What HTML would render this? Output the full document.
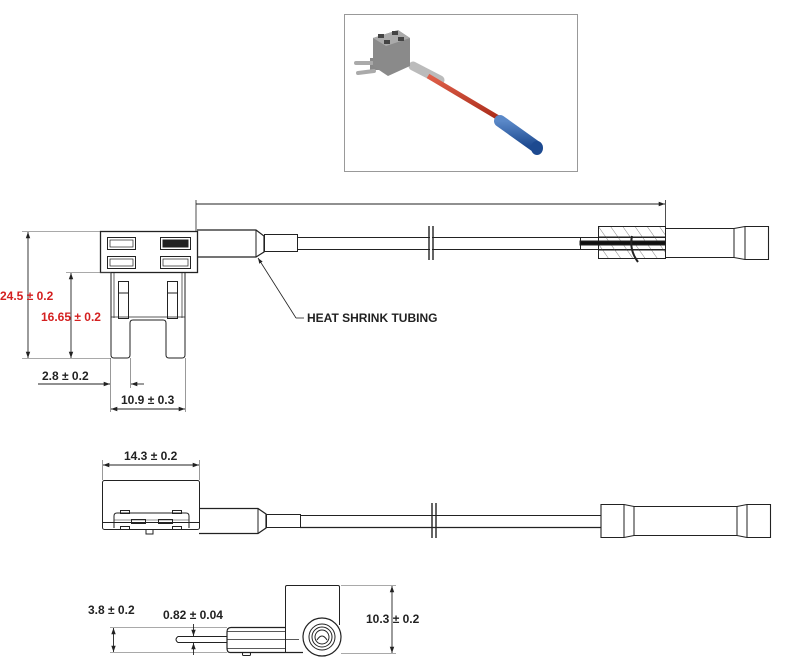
<!DOCTYPE html>
<html><head><meta charset="utf-8"><style>
html,body{margin:0;padding:0;background:#fff;width:812px;height:666px;overflow:hidden}
svg{display:block}
text{font-family:"Liberation Sans",Arial,sans-serif;font-weight:bold;font-size:12px}
</style></head><body>
<svg width="812" height="666" viewBox="0 0 812 666" xmlns="http://www.w3.org/2000/svg">
<defs>
<marker id="a" viewBox="0 0 10 10" refX="10" refY="5" markerWidth="7" markerHeight="7" orient="auto-start-reverse"><path d="M0,1.5 L10,5 L0,8.5z" fill="#222"/></marker>
<pattern id="h" width="10" height="10" patternUnits="userSpaceOnUse" patternTransform="rotate(-35)"><line x1="0" y1="0" x2="0" y2="10" stroke="#666" stroke-width="0.8"/></pattern>
<linearGradient id="red" x1="0" y1="0" x2="0" y2="1"><stop offset="0" stop-color="#e0604a"/><stop offset="1" stop-color="#a82a18"/></linearGradient>
<linearGradient id="blue" x1="0" y1="0" x2="0" y2="1"><stop offset="0" stop-color="#5a88c8"/><stop offset="1" stop-color="#1d4a90"/></linearGradient>
</defs>

<rect x="344.5" y="14.5" width="233" height="157" fill="#fff" stroke="#999"/>
<g>
<line x1="413" y1="66" x2="440" y2="80" stroke="#bbb" stroke-width="9" stroke-linecap="round"/>
<line x1="428" y1="76" x2="502" y2="120" stroke="url(#red)" stroke-width="5"/>
<line x1="500" y1="121" x2="535" y2="146" stroke="url(#blue)" stroke-width="12" stroke-linecap="round"/>
<ellipse cx="537" cy="148" rx="6" ry="7" fill="#1d4a90"/>
<rect x="370" y="58" width="28" height="12" fill="#888"/>
<line x1="356" y1="63" x2="372" y2="63" stroke="#aaa" stroke-width="4" stroke-linecap="round"/>
<line x1="358" y1="73" x2="374" y2="71" stroke="#aaa" stroke-width="4" stroke-linecap="round"/>
<path d="M373,38 L398,30 L410,38 L410,66 L388,76 L373,66z" fill="#8a8a8a"/>
<path d="M373,38 L398,30 L410,38 L386,46z" fill="#aaa"/>
<rect x="378" y="34" width="6" height="4" fill="#444"/><rect x="392" y="31" width="6" height="4" fill="#444"/>
<rect x="384" y="40" width="6" height="4" fill="#444"/><rect x="398" y="37" width="6" height="4" fill="#444"/>
</g>

<g fill="none" stroke="#222" stroke-width="1">
<line x1="196" y1="204" x2="665" y2="204" marker-end="url(#a)" stroke-width="0.9"/>
<line x1="196" y1="200" x2="196" y2="231" stroke-width="0.8"/>
<line x1="665.5" y1="200" x2="665.5" y2="228" stroke-width="0.8"/>
<rect x="100.5" y="231.5" width="97" height="41" stroke-width="1.3"/>
<rect x="107.5" y="237.5" width="28" height="12"/><rect x="110" y="240" width="23" height="7" stroke-width="0.7"/>
<rect x="160.5" y="237.5" width="30" height="12"/><rect x="163" y="240" width="25" height="7" fill="#222"/>
<rect x="107.5" y="256.5" width="28" height="12"/><rect x="110" y="259" width="23" height="7" stroke-width="0.7"/>
<rect x="160.5" y="256.5" width="30" height="12"/><rect x="163" y="259" width="25" height="7" stroke-width="0.7"/>
<path d="M111,272 L111,355 Q111,358 114,358 L127,358 Q130,358 130,355 L130,323 Q130,320 133,320 L163,320 Q166,320 166,323 L166,355 Q166,358 169,358 L182,358 Q185,358 185,355 L185,272"/>
<line x1="114" y1="272" x2="114" y2="318" stroke-width="0.7"/><line x1="182" y1="272" x2="182" y2="318" stroke-width="0.7"/>
<line x1="111" y1="317" x2="185" y2="317" stroke-width="0.7"/>
<rect x="118.5" y="281.5" width="10" height="37"/><line x1="118" y1="293" x2="128" y2="293"/>
<rect x="167.5" y="281.5" width="10" height="37"/><line x1="167" y1="293" x2="177" y2="293"/>
<path d="M197,230 L256,230 L264,236 L264,252 L256,257 L197,257" stroke-width="1.2"/>
<line x1="256" y1="230" x2="256" y2="257"/>
<rect x="264.5" y="234.5" width="33" height="17"/>
<line x1="297" y1="237.5" x2="580" y2="237.5"/><line x1="297" y1="249.5" x2="580" y2="249.5"/>
<line x1="429" y1="226" x2="429" y2="260" stroke-width="1.4"/><line x1="433" y1="226" x2="433" y2="260" stroke-width="1.4"/>
<rect x="430" y="232" width="2" height="23" fill="#fff" stroke="none"/>
<rect x="580.5" y="237.5" width="85" height="12"/>
<rect x="598" y="226" width="68" height="33" fill="url(#h)" stroke="none"/>
<rect x="598.5" y="226.5" width="67" height="32"/>
<rect x="580" y="241" width="86" height="4" fill="#111"/>
<line x1="598" y1="237" x2="666" y2="237"/><line x1="598" y1="250" x2="666" y2="250"/>
<path d="M632,236 Q629,250 638,262" stroke-width="2"/>
<rect x="666" y="228" width="68" height="29" fill="#fff" stroke="none"/>
<path d="M666,228.5 L734,228.5 L745,226.5 L768.5,226.5 L768.5,259.5 L745,259.5 L734,257.5 L666,257.5" stroke-width="1.1"/>
<line x1="734" y1="228" x2="734" y2="258"/><line x1="745" y1="227" x2="745" y2="259"/>
<line x1="22" y1="231.5" x2="100" y2="231.5" stroke-width="0.6" stroke="#555"/>
<line x1="22" y1="358.5" x2="111" y2="358.5" stroke-width="0.6" stroke="#555"/>
<line x1="28" y1="232" x2="28" y2="358" marker-start="url(#a)" marker-end="url(#a)" stroke-width="0.9"/>
<line x1="66" y1="272.5" x2="111" y2="272.5" stroke-width="0.6" stroke="#555"/>
<line x1="71" y1="273" x2="71" y2="358" marker-start="url(#a)" marker-end="url(#a)" stroke-width="0.9"/>
<line x1="110.5" y1="358" x2="110.5" y2="412" stroke-width="0.6" stroke="#555"/>
<line x1="130.5" y1="358" x2="130.5" y2="388" stroke-width="0.6" stroke="#555"/>
<line x1="185.5" y1="358" x2="185.5" y2="412" stroke-width="0.6" stroke="#555"/>
<line x1="38" y1="384" x2="110" y2="384" marker-end="url(#a)" stroke-width="0.9"/>
<line x1="144" y1="384" x2="131" y2="384" marker-end="url(#a)" stroke-width="0.9"/>
<line x1="111" y1="409" x2="185" y2="409" marker-start="url(#a)" marker-end="url(#a)" stroke-width="0.9"/>
<path d="M296,318 L304,318" stroke-width="0.8"/>
<line x1="296" y1="318" x2="258" y2="258" marker-end="url(#a)" stroke-width="0.8"/>

<line x1="102.5" y1="460" x2="102.5" y2="480" stroke-width="0.6" stroke="#555"/>
<line x1="199.5" y1="460" x2="199.5" y2="480" stroke-width="0.6" stroke="#555"/>
<line x1="103" y1="465" x2="199" y2="465" marker-start="url(#a)" marker-end="url(#a)" stroke-width="0.9"/>
<rect x="102.5" y="480.5" width="97" height="49" rx="2"/>
<line x1="102" y1="522.5" x2="199" y2="522.5"/>
<path d="M114,528 L114,516 Q114,513 117,513 L186,513 Q189,513 189,516 L189,528" />
<rect x="120.5" y="510.5" width="9" height="3"/><rect x="172.5" y="510.5" width="9" height="3"/>
<rect x="120.5" y="526.5" width="9" height="3"/><rect x="172.5" y="526.5" width="9" height="3"/>
<rect x="131.5" y="519.5" width="14" height="4"/><rect x="158.5" y="519.5" width="14" height="4"/>
<line x1="114" y1="520" x2="189" y2="520" stroke-width="0.6"/>
<path d="M146,530 L146,534 L153,534 L153,530"/>
<path d="M199,508.5 L258,508.5 L266,514 L266,528 L258,533.5 L199,533.5" stroke-width="1.2"/>
<line x1="258" y1="508" x2="258" y2="534"/>
<rect x="266.5" y="514.5" width="34" height="13"/>
<line x1="300" y1="515.5" x2="601" y2="515.5"/><line x1="300" y1="527.5" x2="601" y2="527.5" stroke-width="1.3"/>
<line x1="432" y1="503" x2="432" y2="538" stroke-width="1.4"/><line x1="436" y1="503" x2="436" y2="538" stroke-width="1.4"/>
<path d="M601,504.5 L624,504.5 L634,506.5 L737,506.5 L747,504.5 L770.5,504.5 L770.5,537.5 L747,537.5 L737,535.5 L634,535.5 L624,537.5 L601,537.5 Z" stroke-width="1.1"/>
<line x1="624" y1="505" x2="624" y2="537"/><line x1="634" y1="506" x2="634" y2="536"/>
<line x1="737" y1="506" x2="737" y2="536"/><line x1="747" y1="505" x2="747" y2="537"/>

<path d="M285.5,652 L285.5,587 Q285.5,585.5 287,585.5 L338,585.5 Q339.5,585.5 339.5,587 L339.5,625"/>
<path d="M303,652.5 L230,652.5 Q227,652.5 227,648 L227,632 Q227,627.5 231,627.5 L285,627.5" stroke-width="1.2"/>
<line x1="227" y1="631.5" x2="285" y2="631.5" stroke-width="0.8"/>
<line x1="227" y1="648.5" x2="285" y2="648.5" stroke-width="0.8"/>
<path d="M227,636.5 L178,636.5 Q174,639.5 178,642.5 L227,642.5"/>
<line x1="227" y1="639.5" x2="299" y2="639.5" stroke-width="0.7"/>
<rect x="242.5" y="652.5" width="8" height="3" rx="1"/>
<circle cx="322" cy="637" r="19" fill="#fff" stroke-width="1.2"/>
<circle cx="322" cy="637" r="13"/>
<circle cx="322" cy="637" r="10"/>
<circle cx="322" cy="637" r="7"/>
<path d="M317,640 Q322,632 327,640"/>
<line x1="341" y1="585.5" x2="396" y2="585.5" stroke-width="0.6" stroke="#555"/>
<line x1="341" y1="653.5" x2="396" y2="653.5" stroke-width="0.6" stroke="#555"/>
<line x1="392" y1="586" x2="392" y2="653" marker-start="url(#a)" marker-end="url(#a)" stroke-width="0.9"/>
<line x1="110" y1="627.5" x2="227" y2="627.5" stroke-width="0.6" stroke="#555"/>
<line x1="110" y1="652.5" x2="227" y2="652.5" stroke-width="0.6" stroke="#555"/>
<line x1="113.5" y1="628" x2="113.5" y2="652" marker-start="url(#a)" marker-end="url(#a)" stroke-width="0.9"/>
<line x1="193.5" y1="624" x2="193.5" y2="636" marker-end="url(#a)" stroke-width="0.9"/>
<line x1="193.5" y1="655" x2="193.5" y2="643" marker-end="url(#a)" stroke-width="0.9"/>
</g>

<text x="0" y="300" fill="#d42020">24.5 ± 0.2</text>
<text x="41" y="321" fill="#d42020">16.65 ± 0.2</text>
<text x="42" y="380" fill="#222">2.8 ± 0.2</text>
<text x="121" y="404" fill="#222">10.9 ± 0.3</text>
<text x="307" y="322" fill="#222">HEAT SHRINK TUBING</text>
<text x="124" y="460" fill="#222">14.3 ± 0.2</text>
<text x="88" y="614" fill="#222">3.8 ± 0.2</text>
<text x="163" y="619" fill="#222">0.82 ± 0.04</text>
<text x="366" y="623" fill="#222">10.3 ± 0.2</text>
</svg>
</body></html>
